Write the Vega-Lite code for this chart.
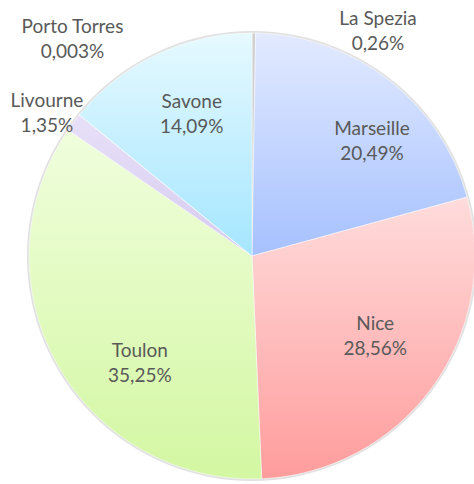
{
  "$schema": "https://vega.github.io/schema/vega-lite/v6.json",
  "width": 444,
  "height": 456,
  "autosize": {"type": "none"},
  "padding": {"left": 30, "top": 28, "right": 0, "bottom": 0},
  "background": "white",
  "config": {"view": {"stroke": null}},
  "data": {"values": [
    {"port": "La Spezia", "share": 0.26, "label": "La Spezia\n0,26%", "ord": 1},
    {"port": "Marseille", "share": 20.49, "label": "Marseille\n20,49%", "ord": 2},
    {"port": "Nice", "share": 28.56, "label": "Nice\n28,56%", "ord": 3},
    {"port": "Toulon", "share": 35.25, "label": "Toulon\n35,25%", "ord": 4},
    {"port": "Livourne", "share": 1.35, "label": "Livourne\n1,35%", "ord": 5},
    {"port": "Porto Torres", "share": 0.003, "label": "Porto Torres\n0,003%", "ord": 6},
    {"port": "Savone", "share": 14.09, "label": "Savone\n14,09%", "ord": 7}
  ]},
  "layer": [
    {
      "data": {"values": [{"shadow": 1}]},
      "mark": {"type": "arc", "outerRadius": 225, "fill": "#c8c8c8", "opacity": 0.55},
      "encoding": {}
    },
    {
      "layer": [
        {
          "mark": {"type": "arc", "outerRadius": 223, "stroke": "#ffffff", "strokeWidth": 0.5},
          "encoding": {
            "fill": {
              "condition": [
                {"test": "datum.port === 'Marseille'", "value": {"gradient": "linear", "x1": 0, "y1": 0, "x2": 0, "y2": 1, "stops": [{"offset": 0, "color": "#e2eaff"}, {"offset": 1, "color": "#a6c1ff"}]}},
                {"test": "datum.port === 'Nice'", "value": {"gradient": "linear", "x1": 0, "y1": 0, "x2": 0, "y2": 1, "stops": [{"offset": 0, "color": "#ffdcdc"}, {"offset": 1, "color": "#ff9c9c"}]}},
                {"test": "datum.port === 'Toulon'", "value": {"gradient": "linear", "x1": 0, "y1": 0, "x2": 0, "y2": 1, "stops": [{"offset": 0, "color": "#f0fedd"}, {"offset": 1, "color": "#d3f7a2"}]}},
                {"test": "datum.port === 'Livourne'", "value": {"gradient": "linear", "x1": 0, "y1": 0, "x2": 0, "y2": 1, "stops": [{"offset": 0, "color": "#e8e0f8"}, {"offset": 1, "color": "#d6ccf0"}]}},
                {"test": "datum.port === 'Savone'", "value": {"gradient": "linear", "x1": 0, "y1": 0, "x2": 0, "y2": 1, "stops": [{"offset": 0, "color": "#e6f9ff"}, {"offset": 1, "color": "#a4e6ff"}]}},
                {"test": "datum.port === 'La Spezia'", "value": "#d0d0d0"}
              ],
              "value": "#f5c88a"
            }
          }
        },
        {
          "mark": {"type": "text", "radius": 150, "dx": 28, "dy": -9, "lineBreak": "\n", "font": "Lato", "fontSize": 19, "lineHeight": 25, "color": "#595959"},
          "encoding": {"text": {"condition": {"test": "datum.port === 'Marseille'", "field": "label"}, "value": ""}}
        },
        {
          "mark": {"type": "text", "radius": 150, "dx": 2, "dy": -20, "lineBreak": "\n", "font": "Lato", "fontSize": 19, "lineHeight": 25, "color": "#595959"},
          "encoding": {"text": {"condition": {"test": "datum.port === 'Nice'", "field": "label"}, "value": ""}}
        },
        {
          "mark": {"type": "text", "radius": 150, "dx": 19, "dy": 22, "lineBreak": "\n", "font": "Lato", "fontSize": 19, "lineHeight": 25, "color": "#595959"},
          "encoding": {"text": {"condition": {"test": "datum.port === 'Toulon'", "field": "label"}, "value": ""}}
        },
        {
          "mark": {"type": "text", "radius": 150, "dx": 4, "dy": -18, "lineBreak": "\n", "font": "Lato", "fontSize": 19, "lineHeight": 25, "color": "#595959"},
          "encoding": {"text": {"condition": {"test": "datum.port === 'Savone'", "field": "label"}, "value": ""}}
        },
        {
          "mark": {"type": "text", "radius": 250, "dx": -5, "dy": -5, "lineBreak": "\n", "font": "Lato", "fontSize": 19, "lineHeight": 25, "color": "#595959"},
          "encoding": {"text": {"condition": {"test": "datum.port === 'Livourne'", "field": "label"}, "value": ""}}
        },
        {
          "mark": {"type": "text", "radius": 250, "dx": 14, "dy": -71, "lineBreak": "\n", "font": "Lato", "fontSize": 19, "lineHeight": 25, "color": "#595959"},
          "encoding": {"text": {"condition": {"test": "datum.port === 'Porto Torres'", "field": "label"}, "value": ""}}
        },
        {
          "mark": {"type": "text", "radius": 250, "dx": 124, "dy": 13, "lineBreak": "\n", "font": "Lato", "fontSize": 19, "lineHeight": 25, "color": "#595959"},
          "encoding": {"text": {"condition": {"test": "datum.port === 'La Spezia'", "field": "label"}, "value": ""}}
        }
      ],
      "encoding": {
        "theta": {"field": "share", "type": "quantitative", "stack": true},
        "order": {"field": "ord", "type": "quantitative"}
      }
    }
  ]
}
